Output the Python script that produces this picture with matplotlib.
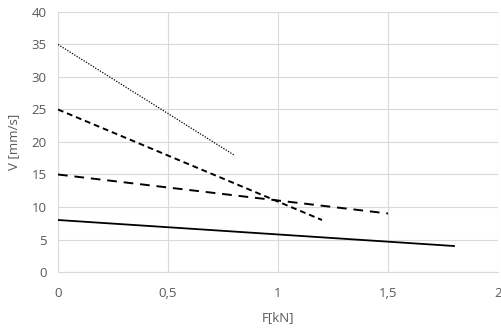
import matplotlib
matplotlib.use("Agg")
import matplotlib.pyplot as plt

# F [kN] / V [mm/s] end points
f_solid = [0, 1.8]
v_solid = [8, 4]
f_long = [0, 1.5]
v_long = [15, 9]
f_dash = [0, 1.2]
v_dash = [25, 8]
f_dot = [0, 0.8]
v_dot = [35, 18]

xticks = [0, 0.5, 1, 1.5, 2]
xlabels = ["0", "0,5", "1", "1,5", "2"]
yticks = [0, 5, 10, 15, 20, 25, 30, 35, 40]

plt.rcParams['font.family'] = ['Open Sans', 'DejaVu Sans']
gray = "#595959"

fig = plt.figure(figsize=(5.02, 3.32), dpi=100)
ax = fig.add_axes([0.1155, 0.1807, 0.8765, 0.7832])

ax.plot(f_solid, v_solid, color="black", lw=1.3, ls="-")
ax.plot(f_long, v_long, color="black", lw=1.4, ls=(0, (5, 3.5)))
ax.plot(f_dash, v_dash, color="black", lw=1.4, ls=(0, (3, 2)))
ax.plot(f_dot, v_dot, color="black", lw=0.9, ls=(0, (1, 1.2)))

ax.set_xlim(0, 2)
ax.set_ylim(0, 40)
ax.set_xticks(xticks)
ax.set_xticklabels(xlabels)
ax.set_yticks(yticks)
ax.grid(True, color="#d9d9d9", lw=0.8)
ax.set_axisbelow(True)
for s in ["top", "right", "left"]:
    ax.spines[s].set_visible(False)
ax.spines["bottom"].set_color("#d9d9d9")
ax.tick_params(axis="x", length=0, colors=gray, labelsize=9.5, pad=11)
ax.tick_params(axis="y", length=0, colors=gray, labelsize=9.5, pad=8)
ax.set_xlabel("F[kN]", color=gray, fontsize=9.5, labelpad=8)
ax.set_ylabel("V [mm/s]", color=gray, fontsize=9.5, labelpad=8)

fig.savefig("out.png", dpi=100)
